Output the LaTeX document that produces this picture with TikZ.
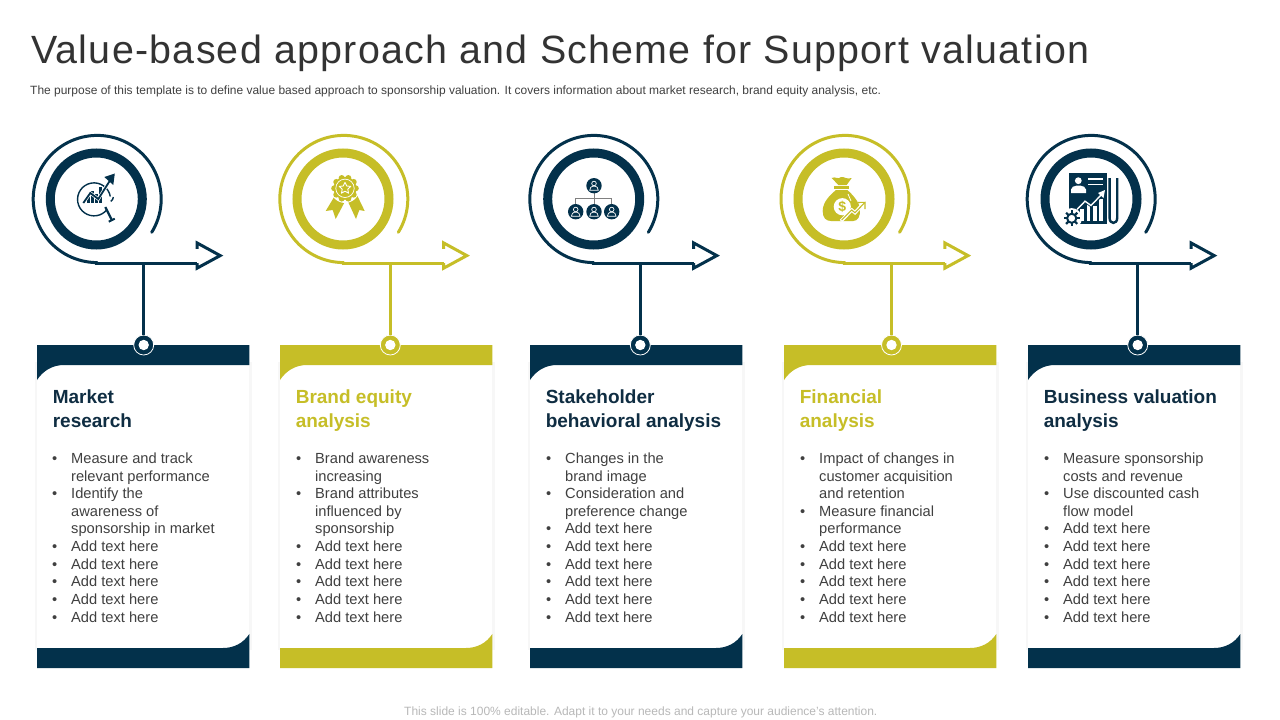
\documentclass[tikz,border=0pt]{standalone}
\usepackage{fontspec}
\setmainfont{Liberation Sans}
\newfontfamily\titlefont[LetterSpace=3.2]{Liberation Sans}
\definecolor{navy}{HTML}{03314B}
\definecolor{olive}{HTML}{C6BE27}
\definecolor{bodygrey}{HTML}{404040}
\definecolor{headnavy}{HTML}{0F2D42}
\newcommand{\bl}{\makebox[19pt][l]{•}}
\newcommand{\ind}{\hspace*{19pt}}
\newcommand{\addtxt}{\bl Add text here}
% column: id, spiral dx, ring dx, stem x, colour
\newcommand{\flow}[5]{%
  \draw[spiralline,draw=#5] plot[domain=90:391.6,samples=90,smooth] ({97.2+#2+64*cos(\x)},{199+63.6*sin(\x)});
  \node[ringnode,draw=#5] (ring#1) at ({96.3+#3},199) {};
  \coordinate (start#1) at ({95+#2},263);
  \coordinate (hub#1) at (#4,263);
  \coordinate (aend#1) at ({197+#2},263);
  \draw[spiralline,draw=#5,line cap=butt] (start#1) -- (aend#1);
  \draw[spiralline,draw=#5,line cap=butt,line join=miter] (aend#1) -- ++(0,5.2) -- ++(23.2,-12.6) -- ++(-23.2,-12.7) -- ++(0,6);
  \node[pinnode,fill=#5] (pin#1) at (#4,345) {};
  \draw[spiralline,draw=#5,line cap=butt] (hub#1) -- (pin#1.north);
}
% card: id, left x, colour, head colour, heading
\newcommand{\card}[5]{%
  \fill[shade] ({#2-2},362) rectangle ({#2+214.5},650);
  \fill[white] (#2,362) rectangle ({#2+212.3},650);
  \fill[#3] (#2,345) -- ({#2+212.3},345) -- ({#2+212.3},365) -- ({#2+27},365) .. controls ({#2+15},365) and ({#2+6},371) .. (#2,380) -- cycle;
  \fill[#3] (#2,648) -- ({#2+186},648) .. controls ({#2+197},648) and ({#2+206.5},643) .. ({#2+212.3},634) -- ({#2+212.3},668) -- (#2,668) -- cycle;
  \node[headtext,text=#4] (head#1) at ({#2+15.6},390) {#5};
}
\newcommand{\bodytext}[3]{\node[bodytextstyle] (body#1) at (#2,452.6) {#3};}
\newcommand{\person}[3]{% x,y,name
  \node[personnode] (#3) at (#1,#2) {};
  \draw[white,line width=.7] (#1,{#2-2.2}) circle (2.3);
  \draw[white,line width=.7] ({#1-4.3},{#2+4.6}) .. controls ({#1-4.3},{#2+1.6}) and ({#1-2.5},{#2+1}) .. ({#1-1.4},{#2+.6}) -- ({#1+1.4},{#2+.6}) .. controls ({#1+2.5},{#2+1}) and ({#1+4.3},{#2+1.6}) .. ({#1+4.3},{#2+4.6}) -- cycle;
}
\tikzset{
  spiralline/.style={line width=3pt,line cap=round},
  ringnode/.style={circle,line width=9pt,minimum size=92pt,inner sep=0,fill=white},
  pinnode/.style={circle,draw=white,line width=.8pt,minimum size=20pt,inner sep=0,path picture={\fill[white] (path picture bounding box.center) circle (5.2pt);}},
  headtext/.style={anchor=north west,inner sep=0,align=left,font=\fontsize{19}{23.3}\selectfont\bfseries},
  bodytextstyle/.style={anchor=north west,inner sep=0,align=left,text=bodygrey,font=\fontsize{14.67}{17.62}\selectfont},
  personnode/.style={circle,fill=navy,minimum size=15.4pt,inner sep=0},
  shade/.style={fill=black!3},
}
\begin{document}
\begin{tikzpicture}[x=1pt,y=-1pt]
\useasboundingbox (0,0) rectangle (1280,720);
\fill[white] (0,0) rectangle (1280,720);
\node[anchor=west,inner sep=0,text=black!80,font=\fontsize{39.4}{42}\selectfont\titlefont] (title) at (31,53) {Value-based approach and Scheme for Support valuation};
\node[anchor=west,inner sep=0,text=bodygrey,font=\fontsize{11.98}{14}\selectfont] (sub) at (30,91) {The purpose of this template is to define value based approach to sponsorship valuation. It covers information about market research, brand equity analysis, etc.};
\node[anchor=west,inner sep=0,text=black!28,font=\fontsize{12}{14}\selectfont] (foot) at (404,712) {This slide is 100\% editable. Adapt it to your needs and capture your audience's attention.};

\card{1}{37}{navy}{headnavy}{Market\\research}
\card{2}{280}{olive}{olive}{Brand equity\\analysis}
\card{3}{530}{navy}{headnavy}{Stakeholder\\behavioral analysis}
\card{4}{784}{olive}{olive}{Financial\\analysis}
\card{5}{1028}{navy}{headnavy}{Business valuation\\analysis}

\flow{1}{0}{0}{143.7}{navy}
\flow{2}{246.6}{246.7}{390.3}{olive}
\flow{3}{496.6}{497.4}{640.3}{navy}
\flow{4}{747.8}{747.7}{891.5}{olive}
\flow{5}{994}{994.7}{1137.7}{navy}

\bodytext{1}{52}{\bl Measure and track\\\ind relevant performance\\\bl Identify the\\\ind awareness of\\\ind sponsorship in market\\\addtxt\\\addtxt\\\addtxt\\\addtxt\\\addtxt}
\bodytext{2}{296}{\bl Brand awareness\\\ind increasing\\\bl Brand attributes\\\ind influenced by\\\ind sponsorship\\\addtxt\\\addtxt\\\addtxt\\\addtxt\\\addtxt}
\bodytext{3}{546}{\bl Changes in the\\\ind brand image\\\bl Consideration and\\\ind preference change\\\addtxt\\\addtxt\\\addtxt\\\addtxt\\\addtxt\\\addtxt}
\bodytext{4}{800}{\bl Impact of changes in\\\ind customer acquisition\\\ind and retention\\\bl Measure financial\\\ind performance\\\addtxt\\\addtxt\\\addtxt\\\addtxt\\\addtxt}
\bodytext{5}{1044}{\bl Measure sponsorship\\\ind costs and revenue\\\bl Use discounted cash\\\ind flow model\\\addtxt\\\addtxt\\\addtxt\\\addtxt\\\addtxt\\\addtxt}

% icon 1: magnifier and chart
\begin{scope}[shift={(96.3,199)},navy]
  \draw[line width=1.4pt] (14,-2.5) arc[start angle=-10,end angle=-320,radius=16.5];
  \draw[line width=2.2pt] (9,8) -- (15.5,21);
  \draw[line width=2pt] (12.5,22.7) -- (18.5,19.7);
  \foreach \bx/\by in {-9.6/-3,-5.6/-8,-1.3/-5,3/-12}{\fill (\bx,\by) rectangle ({\bx+3},4);}
  \draw[white,line width=3.2pt] (-13,4) -- (-6,-6) -- (2,0) -- (14,-19);
  \draw[line width=1.8pt] (-13,4) -- (-6,-6) -- (2,0) -- (14,-19);
  \fill (18.5,-25.5) -- (8,-22) -- (17,-14) -- cycle;
  \draw[line width=1.4pt] (17,-2) arc[start angle=0,end angle=60,radius=5];
\end{scope}
% icon 2: rosette
\begin{scope}[shift={(343,199)},olive]
  \fill (-8.7,-2.3) -- (-17.3,12) -- (-10.3,11) -- (-7.3,20) -- (1,4.3) -- cycle;
  \fill (5.3,3.3) -- (13,20) -- (16.3,11) -- (21.7,12) -- (14.3,-3.3) -- cycle;
  \fill[white] (2,-10.7) circle (14.6);
  \foreach \a in {0,36,...,324}{\fill ({2+10.8*cos(\a)},{-10.7+10.8*sin(\a)}) circle (3);}
  \fill (2,-10.7) circle (11.5);
  \draw[white,line width=.7pt] (2,-10.7) circle (9.2);
  \draw[white,line width=.9pt,line join=round] plot[samples at={-90,-54,...,234},variable=\a] ({2+(mod(round((\a+90)/36),2)==0?6:2.9)*cos(\a)},{-10.7+(mod(round((\a+90)/36),2)==0?6:2.9)*sin(\a)}) -- cycle;
\end{scope}
% icon 3: hierarchy
\draw[gray,line width=.9pt] (575.7,204) -- (575.7,198.3) -- (611.7,198.3) -- (611.7,204) (594,193) -- (594,204);
\person{594}{185.7}{pa}
\person{575.7}{211.7}{pb}
\person{594}{211.7}{pc}
\person{611.7}{211.7}{pd}
% icon 4: money bag
\begin{scope}[shift={(844,199)},olive]
  \fill (-12.3,-21) .. controls (-9,-23) and (-6,-19) .. (-3,-22) .. controls (-1,-23) and (3,-19) .. (7.7,-21) -- (2.7,-14) -- (-5.7,-14) -- cycle;
  \fill (-10,-13.2) rectangle (5.3,-10.4);
  \fill (-8,-9) .. controls (-14,-4) and (-21.3,3) .. (-21.3,12) .. controls (-21.3,19) and (-18,22) .. (-13,22) -- (9.3,22) .. controls (14,22) and (16.5,17) .. (16,10) .. controls (15.5,3) and (8,-5) .. (3.3,-9) -- cycle;
  \fill[white] (-1.7,7.7) circle (8.6);
  \node[inner sep=0,text=olive,font=\fontsize{14}{14}\selectfont\bfseries] (dollar) at (-1.7,7.7) {\$};
  \draw[white,line width=.8pt] (4,-5) -- (7,2);
  \draw[white,line width=3.4pt] (-3,22) -- (7.7,11) -- (11,13.7) -- (19,5);
  \draw[line width=1.1pt] (-2.3,21) -- (7.7,11) -- (11,13.7) -- (21,3.3);
  \draw[line width=1.1pt] (14,3.5) -- (21,3.3) -- (21,10);
\end{scope}
% icon 5: report
\begin{scope}[shift={(1091,199)},navy]
  \fill (-22,-25.7) rectangle (15.7,25.3);
  \draw[line width=2.4pt] (18.6,-21) -- (18.6,19) .. controls (18.6,25.5) and (26.2,25.5) .. (26.2,19) -- (26.2,-21);
  \fill[white] (-12.7,-18.3) circle (3.4);
  \fill[white] (-20,-6) -- (-20,-9.5) .. controls (-20,-12) and (-17,-13) .. (-14,-13.5) -- (-11,-13.5) .. controls (-8,-13) and (-5,-12) .. (-5,-9.5) -- (-5,-6) -- cycle;
  \draw[white,line width=1.5pt] (-2.7,-20) -- (12.3,-20) (-2.7,-14.7) -- (12.3,-14.7);
  \foreach \bx/\by in {-11/10,-4.5/5,2/7,8/0}{\fill[white] (\bx,\by) rectangle ({\bx+3.6},22);}
  \draw[navy,line width=3pt] (-14,10.5) -- (-6,2.2) -- (0,6.5) -- (11,-4);
  \draw[white,line width=1.4pt] (-14,10.5) -- (-6,2.2) -- (0,6.5) -- (11,-5);
  \fill[white] (14,-9) -- (7,-6) -- (12.5,-1) -- cycle;
  \fill[white] (-19.3,19.3) circle (10.2);
  \foreach \a in {0,45,...,315}{\draw[line width=2.2pt] ({-19.3+4*cos(\a)},{19.3+4*sin(\a)}) -- ({-19.3+7.9*cos(\a)},{19.3+7.9*sin(\a)});}
  \draw[line width=2pt] (-19.3,19.3) circle (4.6);
\end{scope}
\end{tikzpicture}
\end{document}
